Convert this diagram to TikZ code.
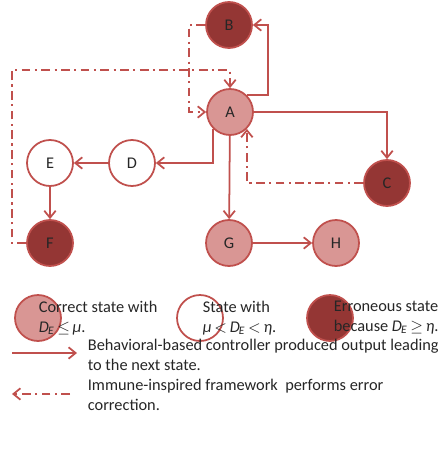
\documentclass[tikz,border=0pt]{standalone}
\usepackage{fontspec}
\setmainfont{Carlito}
\usepackage{tikz}
\usetikzlibrary{arrows.meta}
\definecolor{edgered}{HTML}{C0504D}
\definecolor{fillok}{HTML}{D99694}
\definecolor{fillbad}{HTML}{943634}
\definecolor{inkgray}{HTML}{262626}
\newcommand{\DE}{\textit{D}\textsubscript{\kern-0.5pt\textit{E}}}
\newcommand{\legfont}{\fontsize{9.3}{11.4}\selectfont}

\begin{document}
\begin{tikzpicture}[x=0.02cm, y=-0.02cm, line width=1pt,
  >={Straight Barb[length=4pt,width=6.5pt]},
  state/.style={circle, draw=edgered, minimum size=0.92cm, inner sep=0pt, font=\legfont, text=inkgray},
  ok/.style={state, fill=fillok},
  mid/.style={state, fill=white},
  bad/.style={state, fill=fillbad},
  flow/.style={->, draw=edgered},
  fix/.style={->, draw=edgered, dash pattern=on 5pt off 2.5pt on 1.2pt off 2.5pt},
  lab/.style={font=\legfont, text=inkgray, align=left, anchor=west, inner sep=0pt}]
\useasboundingbox (0,0) rectangle (437,456);
% states
\node[bad] (B) at (229,25) {B};
\node[ok] (A) at (230,112) {A};
\node[bad] (C) at (387,183) {C};
\node[mid] (D) at (132,163) {D};
\node[mid] (E) at (50,163) {E};
\node[bad] (F) at (50,243) {F};
\node[ok] (G) at (229,243) {G};
\node[ok] (H) at (336,243) {H};
% controller transitions
\draw[flow] (A.45) -- ++(21,0) |- (B.east);
\draw[flow] (A.east) -| (C.north);
\draw[flow] (A.225) |- (D.east);
\draw[flow] (D) -- (E);
\draw[flow] (E) -- (F);
\draw[flow] (A) -- (G);
\draw[flow] (G) -- (H);
% error correction
\coordinate (fturn) at (12,70);
\draw[fix] (B.west) -- ++(-16,0) |- (A.west);
\draw[fix] (F.west) -| (fturn) -| (A.north);
\draw[fix] (C.west) -| (A.315);
% legend
\node[ok] (kok) at (38,318) {};
\node[mid] (kmid) at (200,318) {};
\node[bad] (kbad) at (330,318) {};
\node[lab] at (38,318) {Correct state with\\\DE\,$\leq$\,\textit{μ}.};
\node[lab] at (202,318) {State with\\\textit{μ}\,$<$\,\DE\,$<$\,\textit{η}.};
\node[lab] at (333,318) {Erroneous state\\because \DE\,$\geq$\,\textit{η}.};
\coordinate (fa) at (12,353);
\coordinate (fb) at (77,353);
\coordinate (xa) at (70,394);
\coordinate (xb) at (12,394);
\draw[flow] (fa) -- (fb);
\draw[fix] (xa) -- (xb);
\node[lab] at (87,355) {Behavioral-based controller produced output leading\\to the next state.};
\node[lab] at (87,395) {Immune-inspired framework\ \ performs error\\correction.};
\end{tikzpicture}
\end{document}
